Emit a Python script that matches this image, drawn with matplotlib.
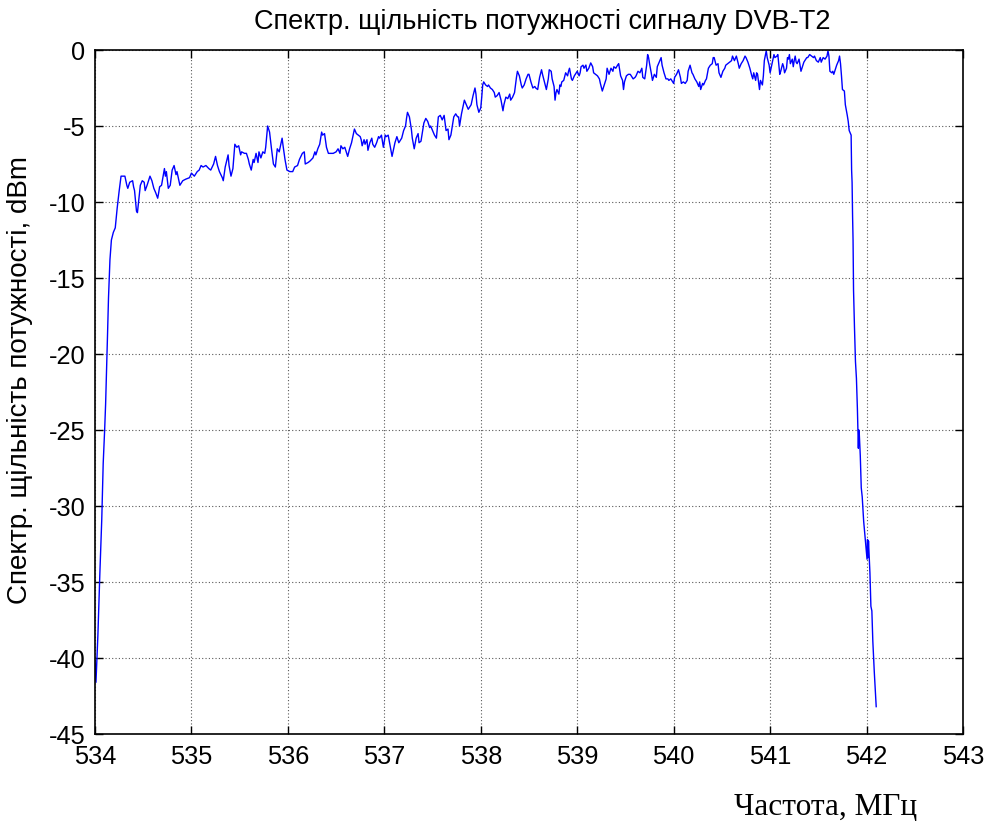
import matplotlib
matplotlib.use("Agg")
import matplotlib.pyplot as plt

# ---- data (frequency in MHz, PSD in dBm) ----
freq_rise = [534.00, 534.01, 534.03, 534.05, 534.07, 534.085, 534.10, 534.11, 534.12, 534.13,
             534.14, 534.155, 534.17, 534.19, 534.21, 534.23, 534.25, 534.27]
psd_rise = [-40.2, -41.6, -38.5, -34.5, -30.9, -27.2, -25.0, -23.3, -21.1, -18.7,
            -16.3, -13.8, -12.5, -12.0, -11.7, -10.4, -9.3, -8.3]

freq_a = [534.31, 534.33, 534.34, 534.36, 534.39, 534.40, 534.41, 534.43, 534.44, 534.45,
          534.47, 534.49, 534.51, 534.52, 534.54, 534.57, 534.59, 534.61, 534.63, 534.65,
          534.66, 534.67, 534.69, 534.72, 534.73, 534.74, 534.76, 534.78, 534.80, 534.82,
          534.84, 534.85, 534.88, 534.91, 534.94, 534.98, 535.00, 535.03, 535.06, 535.08,
          535.10, 535.12, 535.15, 535.18, 535.20, 535.23, 535.25, 535.27, 535.29, 535.32,
          535.33, 535.35, 535.38, 535.39, 535.41, 535.43, 535.45, 535.47, 535.49, 535.51,
          535.52, 535.55, 535.57, 535.59, 535.60, 535.62, 535.64, 535.65, 535.67, 535.69,
          535.70, 535.72, 535.74, 535.76, 535.77, 535.79, 535.81, 535.83, 535.85, 535.87,
          535.89, 535.91, 535.92, 535.94, 535.95, 535.97, 535.99, 536.02, 536.05, 536.07,
          536.10, 536.12, 536.15, 536.17, 536.18, 536.21, 536.23, 536.26, 536.28, 536.29,
          536.31, 536.33, 536.35, 536.36, 536.38, 536.40, 536.42, 536.44, 536.47, 536.50]
psd_a = [-8.3, -8.9, -9.1, -8.7, -8.6, -9.0, -9.25, -10.6, -10.7, -10.1,
         -8.9, -8.6, -8.7, -9.25, -8.9, -8.3, -8.6, -9.1, -9.4, -9.75,
         -9.4, -9.0, -8.9, -7.8, -8.3, -8.0, -9.1, -8.9, -7.9, -7.6,
         -8.2, -8.0, -8.9, -8.6, -8.5, -8.4, -8.1, -8.3, -8.0, -7.9,
         -7.6, -7.7, -7.6, -7.8, -7.9, -7.5, -7.0, -7.6, -8.0, -8.4,
         -8.6, -7.7, -6.9, -7.6, -8.3, -7.8, -6.2, -6.4, -6.3, -6.9,
         -6.7, -6.8, -6.8, -7.2, -7.5, -7.9, -7.2, -7.4, -6.8, -7.4,
         -6.7, -7.1, -6.7, -6.8, -6.4, -5.0, -5.4, -6.5, -7.5, -7.7,
         -6.5, -6.7, -6.4, -5.8, -6.3, -7.2, -7.9, -8.0, -8.0, -7.7,
         -7.6, -7.2, -6.8, -6.7, -7.5, -7.4, -7.3, -7.1, -6.7, -6.9,
         -6.5, -6.2, -5.4, -5.6, -5.5, -6.4, -6.8, -6.8, -6.8, -6.7]

freq_b = [536.52, 536.54, 536.55, 536.57, 536.59, 536.61, 536.62, 536.64, 536.66, 536.68,
          536.69, 536.71, 536.73, 536.75, 536.76, 536.77, 536.79, 536.80, 536.82, 536.83,
          536.85, 536.87, 536.88, 536.90, 536.92, 536.94, 536.95, 536.97, 536.99, 537.01,
          537.02, 537.04, 537.06, 537.08, 537.09, 537.11, 537.13, 537.15, 537.16, 537.18,
          537.20, 537.22, 537.23, 537.24, 537.26, 537.28, 537.29, 537.31, 537.33, 537.35,
          537.36, 537.38, 537.40, 537.41, 537.43, 537.45, 537.47, 537.48, 537.50, 537.52,
          537.54, 537.55, 537.56, 537.58, 537.60, 537.62, 537.63, 537.64, 537.66, 537.67,
          537.69, 537.70, 537.72, 537.74, 537.76, 537.77, 537.78, 537.80, 537.81, 537.83,
          537.85, 537.87, 537.88, 537.90, 537.92, 537.94, 537.95, 537.96, 537.98, 538.00,
          538.01, 538.02, 538.03, 538.05, 538.07, 538.08, 538.10, 538.12, 538.14, 538.15,
          538.17, 538.19, 538.21, 538.23, 538.24, 538.26, 538.28, 538.30, 538.31, 538.33,
          538.35, 538.37, 538.38, 538.40, 538.42, 538.43, 538.45, 538.47, 538.49, 538.50,
          538.52, 538.54, 538.56, 538.57, 538.59, 538.61, 538.63, 538.64, 538.66, 538.68,
          538.70, 538.71, 538.73]
psd_b = [-6.5, -6.8, -6.3, -6.5, -6.4, -6.8, -7.0, -6.5, -6.1, -5.5,
         -5.2, -5.5, -5.6, -5.7, -5.9, -6.3, -5.9, -6.2, -5.9, -6.6,
         -6.1, -5.8, -6.2, -6.4, -6.1, -5.7, -5.8, -5.6, -6.4, -5.6,
         -5.7, -5.6, -6.3, -7.0, -6.7, -6.1, -5.7, -6.1, -6.0, -5.8,
         -5.3, -5.0, -4.5, -4.1, -4.4, -5.2, -5.8, -6.5, -5.8, -5.5,
         -6.1, -6.0, -5.2, -4.8, -4.5, -4.7, -5.1, -5.0, -5.3, -5.6,
         -5.8, -5.1, -4.4, -4.3, -4.6, -4.3, -4.8, -5.3, -5.2, -5.9,
         -5.6, -5.2, -4.4, -4.2, -4.4, -4.4, -5.0, -4.2, -3.9, -3.3,
         -3.6, -3.9, -3.8, -3.6, -3.0, -2.5, -2.9, -3.6, -4.1, -3.8,
         -3.1, -2.3, -2.1, -2.3, -2.4, -2.3, -2.5, -2.6, -2.8, -3.1,
         -3.0, -2.8, -3.3, -4.0, -3.6, -3.1, -3.2, -2.9, -3.3, -3.1,
         -2.8, -1.8, -1.4, -1.7, -2.3, -2.5, -2.3, -1.9, -1.6, -1.6,
         -2.1, -2.5, -2.4, -2.5, -2.6, -1.8, -1.3, -1.6, -2.1, -2.6,
         -1.9, -1.3, -1.4]

freq_c = [538.74, 538.76, 538.77, 538.78, 538.79, 538.81, 538.82, 538.83, 538.84, 538.86,
          538.88, 538.90, 538.91, 538.92, 538.94, 538.95, 538.97, 538.99, 539.00, 539.02,
          539.03, 539.04, 539.06, 539.07, 539.09, 539.10, 539.12, 539.14, 539.16, 539.17,
          539.19, 539.21, 539.23, 539.24, 539.26, 539.28, 539.30, 539.31, 539.33, 539.35,
          539.37, 539.38, 539.40, 539.42, 539.43, 539.45, 539.47, 539.48, 539.49, 539.51,
          539.53, 539.55, 539.56, 539.58, 539.60, 539.61, 539.63, 539.65, 539.67, 539.68,
          539.70, 539.72, 539.73, 539.74, 539.75, 539.77, 539.78, 539.80, 539.82, 539.83,
          539.85, 539.87, 539.88, 539.90, 539.92, 539.94, 539.95, 539.97, 539.99, 540.00,
          540.01, 540.03, 540.05, 540.07, 540.08, 540.10, 540.12, 540.14, 540.15, 540.17,
          540.19, 540.20, 540.22, 540.24, 540.26, 540.27, 540.28, 540.30, 540.31, 540.33,
          540.34, 540.36, 540.38, 540.40, 540.41, 540.42, 540.44, 540.46, 540.47, 540.49,
          540.51, 540.53, 540.54, 540.56, 540.58, 540.60, 540.61, 540.63, 540.65, 540.67,
          540.68, 540.70, 540.72, 540.74, 540.75, 540.77, 540.79, 540.81, 540.82, 540.83,
          540.85, 540.86, 540.87, 540.89, 540.90, 540.92, 540.93, 540.94, 540.96, 540.97,
          540.99, 541.00, 541.01, 541.03, 541.04, 541.05, 541.07, 541.08]
psd_c = [-1.9, -2.4, -3.3, -2.8, -2.6, -2.9, -2.3, -2.4, -2.1, -2.0,
         -1.5, -1.7, -1.4, -1.2, -1.9, -2.0, -1.7, -1.5, -1.4, -1.7,
         -1.5, -1.1, -1.0, -1.2, -0.99, -1.4, -1.2, -0.85, -1.1, -1.5,
         -1.6, -1.7, -1.9, -2.2, -2.7, -2.3, -1.9, -1.2, -1.6, -1.2,
         -1.4, -1.1, -1.2, -0.98, -0.9, -1.7, -2.0, -2.6, -2.1, -1.7,
         -1.6, -1.6, -1.7, -1.9, -1.8, -1.7, -1.4, -1.5, -1.2, -1.8,
         -1.9, -1.0, -0.3, -0.5, -0.9, -1.6, -2.0, -1.6, -1.8, -1.1,
         -0.8, -0.5, -1.0, -1.5, -1.9, -1.9, -2.0, -1.9, -2.1, -2.2,
         -1.8, -1.6, -1.3, -1.8, -2.2, -2.1, -2.2, -2.0, -1.4, -1.0,
         -1.5, -1.6, -1.9, -2.1, -2.4, -2.1, -2.6, -2.2, -2.3, -2.0,
         -1.9, -1.2, -1.0, -0.9, -0.5, -0.5, -1.0, -0.9, -1.5, -1.8,
         -1.4, -1.2, -1.0, -0.9, -0.8, -0.7, -0.4, -0.7, -0.4, -0.9,
         -1.2, -0.9, -0.7, -0.4, -0.5, -0.8, -1.2, -1.7, -1.9, -1.5,
         -2.0, -1.5, -1.6, -2.6, -2.0, -2.3, -1.7, -0.7, -0.05, -0.5,
         -1.0, -1.5, -1.2, -0.6, -0.3, -0.5, -0.4, -0.3]

freq_d = [541.10, 541.11, 541.13, 541.14, 541.15, 541.17, 541.18, 541.19, 541.20, 541.21,
          541.23, 541.24, 541.25, 541.26, 541.27, 541.28, 541.30, 541.31, 541.32, 541.34,
          541.35, 541.37, 541.38, 541.39, 541.41, 541.43, 541.45, 541.46, 541.48, 541.50,
          541.52, 541.53, 541.55, 541.57, 541.59, 541.60, 541.61, 541.62, 541.64, 541.65,
          541.66, 541.68, 541.69, 541.71, 541.72, 541.73, 541.74, 541.75, 541.77, 541.78,
          541.80, 541.81, 541.82, 541.84]
psd_d = [-1.6, -1.4, -0.9, -1.1, -1.5, -1.2, -0.5, -0.6, -0.3, -0.9,
         -0.6, -1.1, -0.7, -0.4, -0.8, -0.9, -0.6, -1.0, -1.4, -1.0,
         -0.8, -0.6, -0.5, -0.5, -0.3, -0.4, -0.5, -0.4, -0.7, -0.8,
         -0.5, -0.8, -0.5, -0.6, -0.4, -0.05, -0.4, -1.4, -1.5, -1.4,
         -1.6, -1.2, -1.0, -0.7, -0.4, -0.9, -1.7, -2.6, -2.7, -3.6,
         -4.3, -4.7, -5.3, -5.6]

freq_fall = [541.845, 541.85, 541.855, 541.86, 541.865, 541.875, 541.885, 541.895, 541.905, 541.915,
             541.92, 541.925, 541.935, 541.945, 541.955, 541.97, 541.985, 541.995, 542.005, 542.01,
             542.015, 542.02, 542.035, 542.045, 542.055, 542.065, 542.08, 542.10]
psd_fall = [-7.9, -8.7, -10.9, -12.5, -15.8, -18.3, -20.5, -21.6, -23.6, -26.2,
            -25.0, -25.3, -26.7, -28.8, -29.4, -31.0, -32.1, -32.9, -33.5, -32.2,
            -33.4, -32.3, -34.4, -36.6, -36.9, -38.9, -40.9, -43.2]

freq = freq_rise + freq_a + freq_b + freq_c + freq_d + freq_fall
psd = psd_rise + psd_a + psd_b + psd_c + psd_d + psd_fall

x_ticks = [534, 535, 536, 537, 538, 539, 540, 541, 542, 543]
y_ticks = [0, -5, -10, -15, -20, -25, -30, -35, -40, -45]

title_text = "Спектр. щільність потужності сигналу DVB-T2"
ylabel_text = "Спектр. щільність потужності, dBm"
xlabel_text = "Частота, МГц"

# ---- figure ----
W, H = 989, 828
fig = plt.figure(figsize=(W / 100, H / 100), dpi=100)
ax = fig.add_axes([95 / W, 1 - 735 / H, (963 - 95) / W, (735 - 51) / H])

ax.plot(freq, psd, color=(0, 0, 1), linewidth=1.0)

ax.set_xlim(534, 543)
ax.set_ylim(-45, 0)
ax.set_xticks(x_ticks)
ax.set_yticks(y_ticks)
ax.set_xticklabels([str(v) for v in x_ticks], family="Liberation Sans", fontsize=18.3)
ax.set_yticklabels([str(v) for v in y_ticks], family="Liberation Sans", fontsize=18.3)
ax.tick_params(direction="in", length=6, width=1.0, top=True, right=True,
               pad=7, colors="black")
ax.grid(True, linestyle=(0, (1, 2)), color="0.35", linewidth=0.8)
for s in ax.spines.values():
    s.set_linewidth(1.2)
    s.set_color("black")

fig.text(542.5 / W, 1 - 22 / H, title_text, ha="center", va="center",
         family="Liberation Sans", fontsize=19.5)
fig.text(20 / W, 1 - 380 / H, ylabel_text, ha="center", va="center", rotation=90,
         family="Liberation Sans", fontsize=20)
fig.text(826 / W, 1 - 808 / H, xlabel_text, ha="center", va="center",
         family="Liberation Serif", fontsize=22.5)

fig.savefig("out.png", dpi=100, facecolor="white")
